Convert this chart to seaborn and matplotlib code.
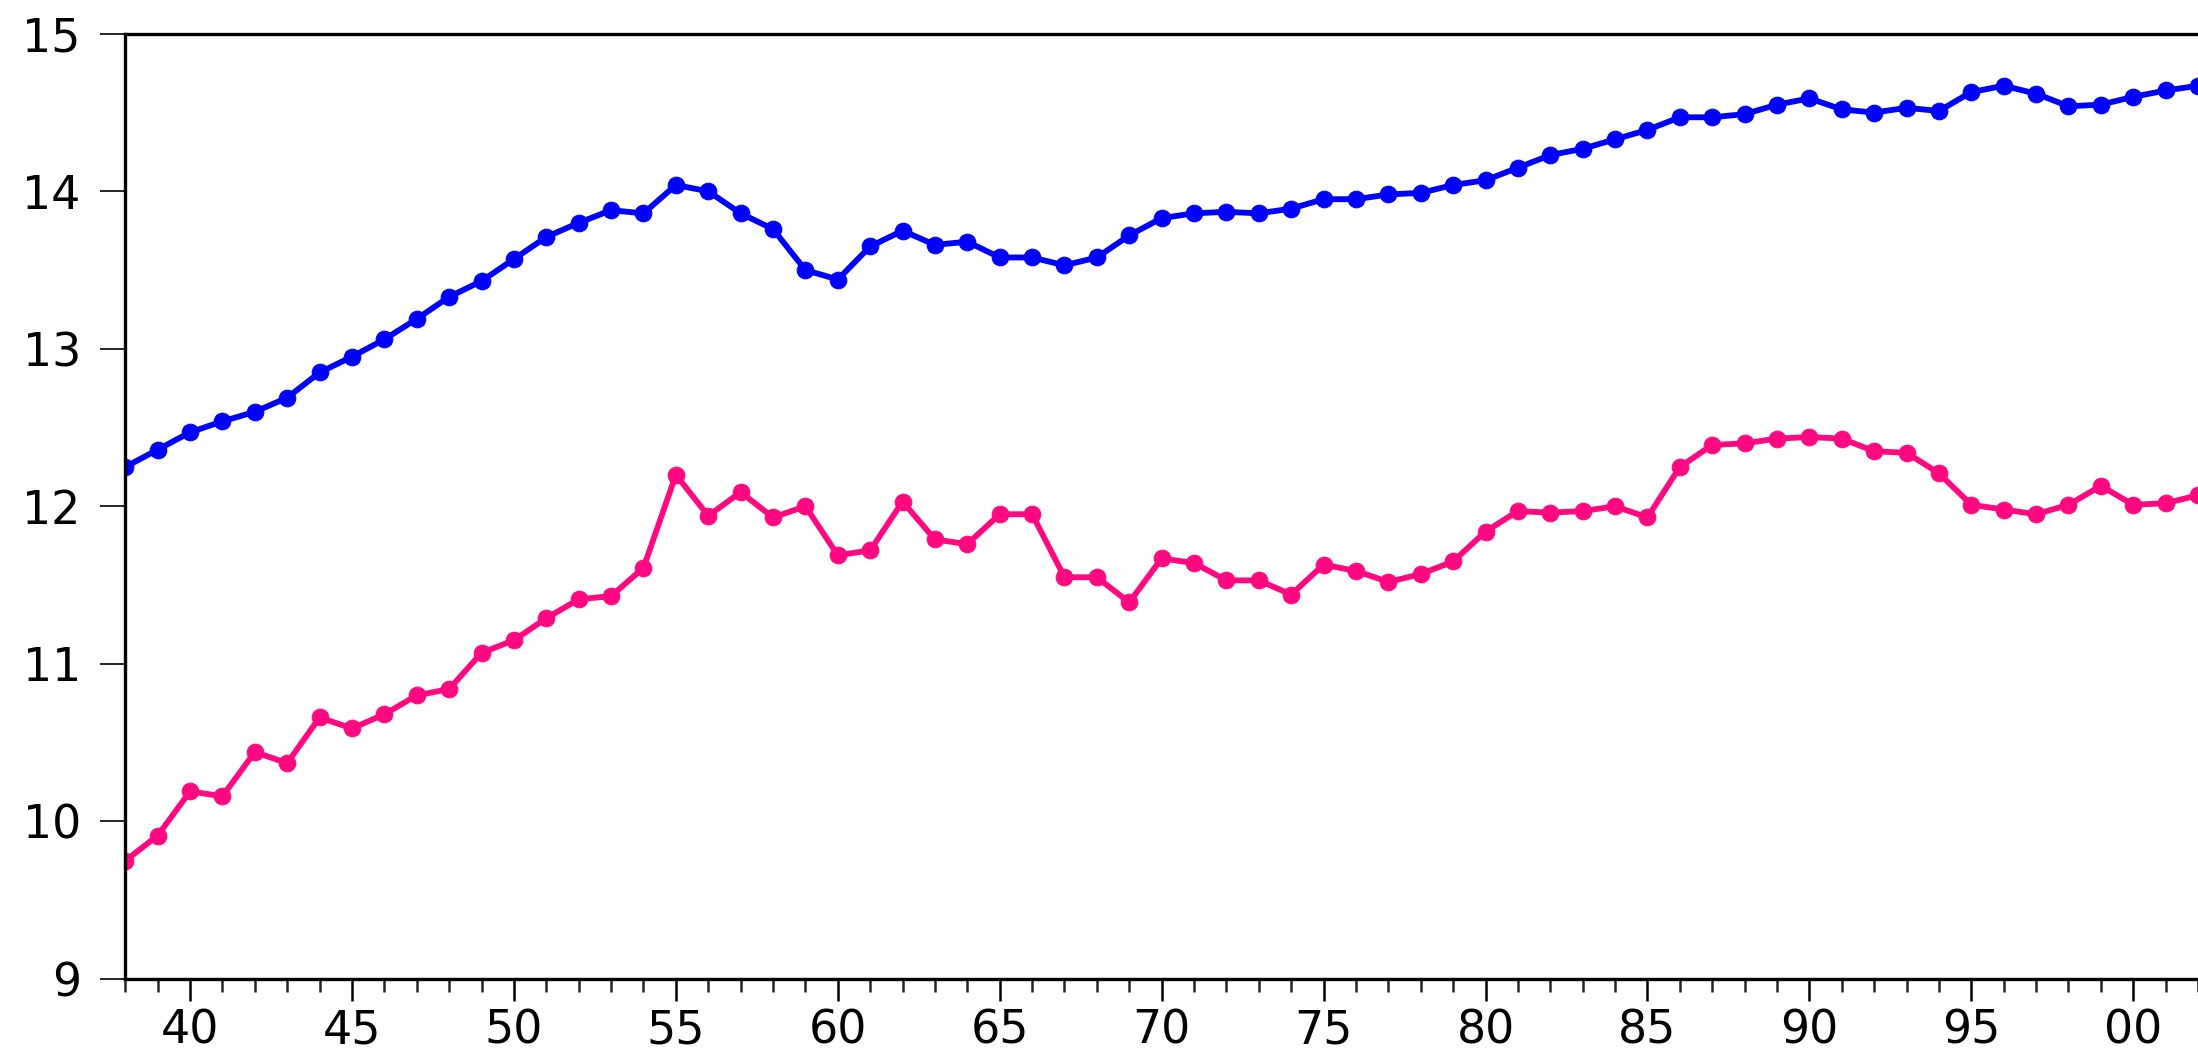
import matplotlib
matplotlib.use('Agg')
import matplotlib.pyplot as plt
import pandas as pd
import seaborn as sns
from matplotlib.ticker import MultipleLocator

years = list(range(1938, 2003))

blue_vals = [12.25, 12.36, 12.47, 12.54, 12.60, 12.69, 12.85, 12.95, 13.06, 13.19,
             13.33, 13.43, 13.57, 13.71, 13.80, 13.88, 13.86, 14.04, 14.00, 13.86,
             13.76, 13.50, 13.44, 13.65, 13.75, 13.66, 13.68, 13.58, 13.58, 13.53,
             13.58, 13.72, 13.83, 13.86, 13.87, 13.86, 13.89, 13.95, 13.95, 13.98,
             13.99, 14.04, 14.07, 14.15, 14.23, 14.27, 14.33, 14.39, 14.47, 14.47,
             14.49, 14.55, 14.59, 14.52, 14.50, 14.53, 14.51, 14.63, 14.67, 14.62,
             14.54, 14.55, 14.60, 14.64, 14.67]

pink_vals = [9.75, 9.91, 10.19, 10.16, 10.44, 10.37, 10.66, 10.59, 10.68, 10.80,
             10.84, 11.07, 11.15, 11.29, 11.41, 11.43, 11.61, 12.20, 11.94, 12.09,
             11.93, 12.00, 11.69, 11.72, 12.03, 11.79, 11.76, 11.95, 11.95, 11.55,
             11.55, 11.39, 11.67, 11.64, 11.53, 11.53, 11.44, 11.63, 11.59, 11.52,
             11.57, 11.65, 11.84, 11.97, 11.96, 11.97, 12.00, 11.93, 12.25, 12.39,
             12.40, 12.43, 12.44, 12.43, 12.35, 12.34, 12.21, 12.01, 11.98, 11.95,
             12.01, 12.13, 12.01, 12.02, 12.07]

major_years = list(range(1940, 2001, 5))
year_labels = ['40', '45', '50', '55', '60', '65', '70', '75', '80', '85', '90', '95', '00']

blue = '#0000FF'
pink = '#FF0880'

sns.set_style('ticks')
plt.rcParams['font.family'] = ['DejaVu Sans']

df = pd.DataFrame({'year': years, 'blue': blue_vals, 'pink': pink_vals})

fig = plt.figure(figsize=(21.98, 10.56), dpi=100)
ax = fig.add_axes([0.057, 0.073, 0.943, 0.895])

for col, c in [('pink', pink), ('blue', blue)]:
    sns.lineplot(data=df, x='year', y=col, color=c, marker='o', markersize=12,
                 markeredgecolor=c, markerfacecolor=c, linewidth=4.2, ax=ax)

ax.set_xlim(1938, 2002)
ax.set_ylim(9, 15)
ax.set_xlabel('')
ax.set_ylabel('')

ax.set_xticks(major_years)
ax.set_xticklabels(year_labels)
ax.xaxis.set_minor_locator(MultipleLocator(1))
ax.set_yticks(range(9, 16))

ax.tick_params(axis='x', which='major', direction='out', length=16, width=1.8,
               labelsize=33, pad=5, colors='black')
ax.tick_params(axis='x', which='minor', direction='out', length=9, width=1.8)
ax.tick_params(axis='y', which='major', direction='out', length=18, width=1.2,
               labelsize=33, pad=14, colors='black')

for s in ['left', 'bottom', 'top']:
    ax.spines[s].set_linewidth(2.4)
    ax.spines[s].set_color('black')
ax.spines['right'].set_visible(False)

fig.savefig('out.png', dpi=100)
